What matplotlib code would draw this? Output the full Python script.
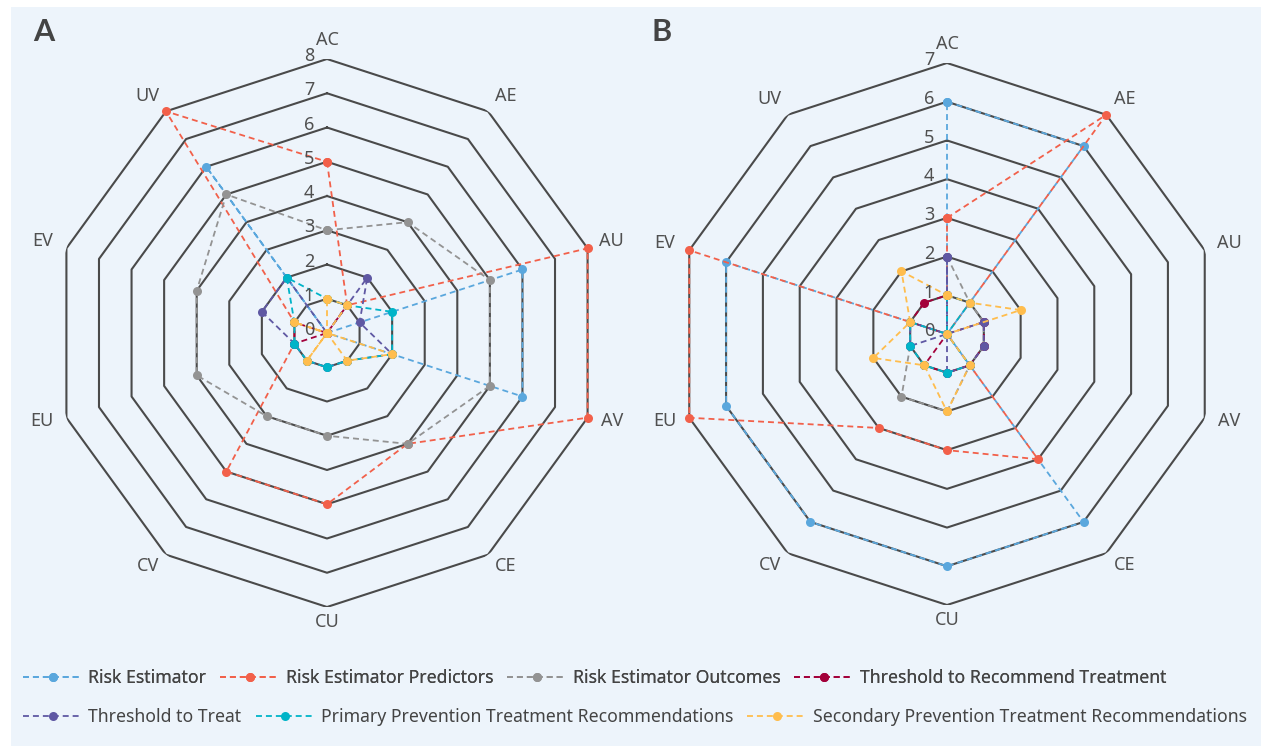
import numpy as np
import matplotlib
matplotlib.use('Agg')
import matplotlib.pyplot as plt
from matplotlib.lines import Line2D
from matplotlib.patches import Rectangle

plt.rcParams['font.family'] = ['Noto Sans', 'DejaVu Sans']

categories = ['AC', 'AE', 'AU', 'AV', 'CE', 'CU', 'CV', 'EU', 'EV', 'UV']
series_names = [
    'Risk Estimator',
    'Risk Estimator Predictors',
    'Risk Estimator Outcomes',
    'Threshold to Recommend Treatment',
    'Threshold to Treat',
    'Primary Prevention Treatment Recommendations',
    'Secondary Prevention Treatment Recommendations',
]
colors = ['#5aa7dd', '#f2604a', '#939393', '#a3003a', '#5f58a3', '#00b4c8', '#ffbd4d']

# panel A (scale 0-8)
risk_est_a = [0, 0, 6, 6, 0, 0, 0, 0, 0, 6]
predictors_a = [5, 1, 8, 8, 4, 5, 5, 1, 1, 8]
outcomes_a = [3, 4, 5, 5, 4, 3, 3, 4, 4, 5]
thr_rec_a = [0, 1, 0, 0, 0, 0, 0, 1, 1, 0]
thr_treat_a = [0, 2, 1, 2, 1, 1, 1, 1, 2, 2]
primary_a = [1, 1, 2, 2, 1, 1, 1, 1, 1, 2]
secondary_a = [1, 1, 0, 2, 1, 0, 1, 0, 1, 0]

# panel B (scale 0-7)
risk_est_b = [6, 6, 0, 0, 6, 6, 6, 6, 6, 0]
predictors_b = [3, 7, 0, 0, 4, 3, 3, 7, 7, 0]
outcomes_b = [2, 1, 1, 1, 1, 2, 2, 1, 1, 0]
thr_rec_b = [1, 0, 1, 1, 1, 1, 1, 0, 1, 1]
thr_treat_b = [2, 0, 1, 1, 1, 1, 0, 1, 1, 0]
primary_b = [1, 1, 0, 0, 1, 1, 1, 1, 1, 0]
secondary_b = [1, 1, 2, 0, 1, 2, 1, 2, 1, 2]

panels = [
    ('A', 8, [risk_est_a, predictors_a, outcomes_a, thr_rec_a, thr_treat_a, primary_a, secondary_a]),
    ('B', 7, [risk_est_b, predictors_b, outcomes_b, thr_rec_b, thr_treat_b, primary_b, secondary_b]),
]

W, H = 1261, 746
fig = plt.figure(figsize=(W / 100, H / 100), dpi=100, facecolor='white')
fig.patches.append(Rectangle((11 / W, 0), 1 - 11 / W, 1 - 7 / H, transform=fig.transFigure,
                             facecolor='#edf4fb', edgecolor='none', zorder=-10))

# centre (px from top-left) and outer radius in px for each panel
geom = {'A': (327, 333, 274), 'B': (947, 334, 271)}

n = len(categories)
theta = np.arange(n) * 2 * np.pi / n
theta_c = np.append(theta, theta[0])
text_col = '#505050'

for letter, rmax, data in panels:
    cx, cy, rad = geom[letter]
    ax = fig.add_axes([(cx - rad) / W, (H - cy - rad) / H, 2 * rad / W, 2 * rad / H], projection='polar')
    ax.set_theta_zero_location('N')
    ax.set_theta_direction(-1)
    ax.set_facecolor('none')
    ax.spines['polar'].set_visible(False)
    ax.grid(False)
    ax.set_xticks([])
    ax.set_yticks([])
    ax.set_ylim(0, rmax)

    for v in range(1, rmax + 1):
        ax.plot(theta_c, [v] * (n + 1), color='#4a4a4a', lw=1.5, zorder=1)

    for vals, col in zip(data, colors):
        vv = np.append(vals, vals[0])
        ax.plot(theta_c, vv, color=col, lw=1.3, ls=(0, (3.3, 2.2)), marker='o', ms=6.5,
                markeredgewidth=0, zorder=3, clip_on=False)

    for v in range(0, rmax + 1):
        ax.annotate(str(v), xy=(0, v), xytext=(-13, 2), textcoords='offset points',
                    ha='center', va='center', fontsize=13, color=text_col, zorder=5)

    d = 12.2
    for t, lab in zip(theta, categories):
        s, c = np.sin(t), np.cos(t)
        ox = d * s + (5.8 * np.sign(s) if abs(s) > 1e-6 else 0)
        oy = d * c + 1.4
        ax.annotate(lab, xy=(t, rmax), xytext=(ox, oy), textcoords='offset points',
                    ha='center', va='center', fontsize=13, color=text_col, annotation_clip=False)

    fig.text({'A': 44, 'B': 662}[letter] / W, 1 - 32 / H, letter, fontsize=22, fontweight='bold',
             family=['Lato', 'DejaVu Sans'], color='#444444', ha='center', va='center')

handles = [Line2D([], [], color=c, lw=1.3, ls=(0, (3.3, 2.2)), marker='o', ms=6.5, markeredgewidth=0)
           for c in colors]

leg_kw = dict(frameon=False, loc='center left', fontsize=12.7, handlelength=3.35, handletextpad=0.35,
              columnspacing=0.8, borderpad=0, borderaxespad=0, labelcolor='#444444')
leg1 = fig.legend(handles[:4], series_names[:4], ncol=4, bbox_to_anchor=(23 / W, 1 - 678 / H), **leg_kw)
fig.add_artist(leg1)
fig.legend(handles[4:], series_names[4:], ncol=3, bbox_to_anchor=(23 / W, 1 - 717 / H), **leg_kw)

fig.savefig('out.png', dpi=100, facecolor='white')
